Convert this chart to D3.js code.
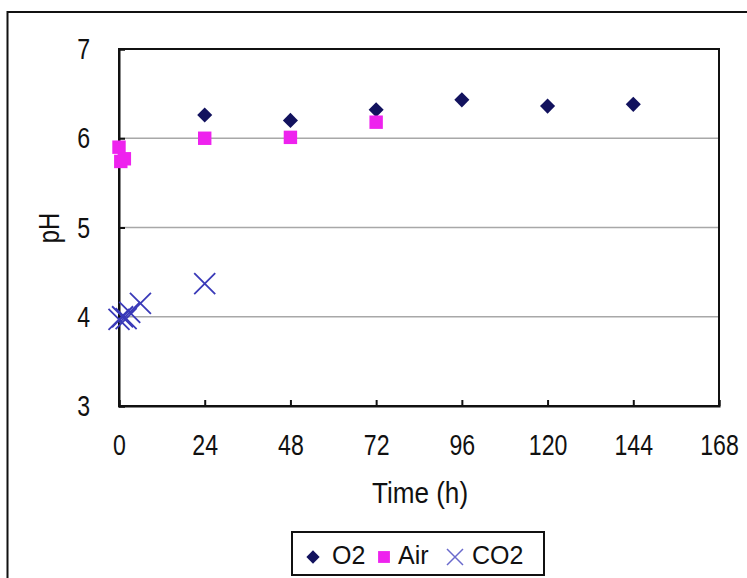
<!DOCTYPE html>
<html>
<head>
<meta charset="utf-8">
<script src="https://cdn.jsdelivr.net/npm/d3@7"></script>
<style>
  body { margin: 0; background: #fff; }
  text { font-family: "Liberation Sans", Arial, sans-serif; fill: #111; }
</style>
</head>
<body>
<div id="wrapper"></div>
<script>
// data
const xTicks = [0, 24, 48, 72, 96, 120, 144, 168];
const yTicks = [3, 4, 5, 6, 7];
const gridValues = [4, 5, 6];

const o2Time = [24, 48, 72, 96, 120, 144];
const o2PH = [6.26, 6.2, 6.32, 6.43, 6.36, 6.38];

const airTime = [0, 0.5, 1.5, 24, 48, 72];
const airPH = [5.9, 5.74, 5.77, 6.0, 6.01, 6.18];

const co2Time = [0, 1, 2, 3, 6, 24];
const co2PH = [3.97, 4.0, 3.98, 4.05, 4.15, 4.37];

const seriesNames = ["O2", "Air", "CO2"];

function drawChart() {
    const width = 747
    // the chart text is a tall, narrow face: squeeze it sideways
    const squeeze = 0.77;
    let dimensions = {
        width: width,
        height: 578,
        margin: {
            top: 49,
            right: 28,
            bottom: 172,
            left: 119,
        },
    }
    dimensions.boundedWidth = dimensions.width
        - dimensions.margin.left
        - dimensions.margin.right
    dimensions.boundedHeight = dimensions.height
        - dimensions.margin.top
        - dimensions.margin.bottom

    const colors = { O2: "#12125e", Air: "#ee22ee", CO2: "#3a3ab8" };

    const wrapper = d3.select("#wrapper")
        .html("")
        .append("svg")
        .attr("width", dimensions.width)
        .attr("height", dimensions.height);

    // outer chart frame
    wrapper.append("rect")
        .attr("x", 7.5)
        .attr("y", 12)
        .attr("width", 760)
        .attr("height", 600)
        .attr("fill", "none")
        .attr("stroke", "#111")
        .attr("stroke-width", 2);

    const bounds = wrapper.append("g")
        .attr("transform", `translate(${dimensions.margin.left},${dimensions.margin.top})`);

    const xScaler = d3.scaleLinear()
        .domain([0, 168])
        .range([0, dimensions.boundedWidth]);

    const yScaler = d3.scaleLinear()
        .domain([3, 7])
        .range([dimensions.boundedHeight, 0]);

    // gridlines
    bounds.append("g")
        .selectAll("line")
        .data(gridValues)
        .enter()
        .append("line")
        .attr("x1", 0)
        .attr("x2", dimensions.boundedWidth)
        .attr("y1", d => yScaler(d))
        .attr("y2", d => yScaler(d))
        .attr("stroke", "#a8a8a8")
        .attr("stroke-width", 1.5);

    // plot frame
    bounds.append("rect")
        .attr("width", dimensions.boundedWidth)
        .attr("height", dimensions.boundedHeight)
        .attr("fill", "none")
        .attr("stroke", "#111")
        .attr("stroke-width", 2);

    const xAxisGen = d3.axisBottom(xScaler)
        .tickValues(xTicks)
        .tickFormat(d3.format("d"))
        .tickSize(-6)
        .tickPadding(28);
    const xAxis = bounds.append("g")
        .attr("transform", `translate(0,${dimensions.boundedHeight})`)
        .call(xAxisGen);

    const yAxisGen = d3.axisLeft(yScaler)
        .tickValues(yTicks)
        .tickFormat(d3.format("d"))
        .tickSize(-6)
        .tickPadding(29 / squeeze);
    const yAxis = bounds.append("g")
        .call(yAxisGen);

    [xAxis, yAxis].forEach(ax => {
        ax.attr("font-family", null).attr("font-size", null);
        ax.select(".domain").attr("stroke", "#111").attr("stroke-width", 2);
        ax.selectAll(".tick line").attr("stroke", "#111").attr("stroke-width", 2);
        ax.selectAll(".tick text")
            .attr("fill", "#111")
            .attr("transform", `scale(${squeeze},1)`)
            .style("font-size", "30px");
    });

    // axis titles
    wrapper.append("text")
        .attr("transform", "translate(420,503) scale(0.9,1)")
        .attr("text-anchor", "middle")
        .style("font-size", "29px")
        .text("Time (h)");

    wrapper.append("text")
        .attr("transform", `translate(59,228) rotate(-90) scale(0.82,1)`)
        .attr("text-anchor", "middle")
        .style("font-size", "29px")
        .text("pH");

    const diamond = d3.symbol().type(d3.symbolDiamond2).size(145);
    const square = d3.symbol().type(d3.symbolSquare).size(180);
    const cross = r => `M${-r},${-r}L${r},${r}M${-r},${r}L${r},${-r}`;

    // O2
    bounds.append("g")
        .selectAll("path")
        .data(d3.zip(o2Time, o2PH))
        .enter()
        .append("path")
        .attr("d", diamond)
        .attr("transform", d => `translate(${xScaler(d[0])},${yScaler(d[1])})`)
        .attr("fill", colors.O2);

    // Air
    bounds.append("g")
        .selectAll("path")
        .data(d3.zip(airTime, airPH))
        .enter()
        .append("path")
        .attr("d", square)
        .attr("transform", d => `translate(${xScaler(d[0])},${yScaler(d[1])})`)
        .attr("fill", colors.Air);

    // CO2
    bounds.append("g")
        .selectAll("path")
        .data(d3.zip(co2Time, co2PH))
        .enter()
        .append("path")
        .attr("d", cross(10.5))
        .attr("transform", d => `translate(${xScaler(d[0])},${yScaler(d[1])})`)
        .attr("fill", "none")
        .attr("stroke", colors.CO2)
        .attr("stroke-width", 1.8);

    // legend
    const legend = wrapper.append("g")
        .attr("transform", "translate(292,532)");
    legend.append("rect")
        .attr("width", 252)
        .attr("height", 43)
        .attr("fill", "#fff")
        .attr("stroke", "#111")
        .attr("stroke-width", 2);

    const legendX = [21, 92, 163];
    const legendSym = {
        O2: d3.symbol().type(d3.symbolDiamond2).size(112)(),
        Air: d3.symbol().type(d3.symbolSquare).size(140)(),
        CO2: cross(8),
    };
    const items = legend.selectAll("g.item")
        .data(seriesNames)
        .enter()
        .append("g")
        .attr("class", "item")
        .attr("transform", (d, i) => `translate(${legendX[i]},25)`);
    items.append("path")
        .attr("d", d => legendSym[d])
        .attr("fill", d => d === "CO2" ? "none" : colors[d])
        .attr("stroke", d => d === "CO2" ? "#6a6acc" : "none")
        .attr("stroke-width", 1.5);
    items.append("text")
        .attr("x", d => d === "O2" ? 19 : d === "Air" ? 14 : 17)
        .attr("y", 7)
        .style("font-size", "25px")
        .text(d => d);
}

drawChart();
</script>
</body>
</html>
